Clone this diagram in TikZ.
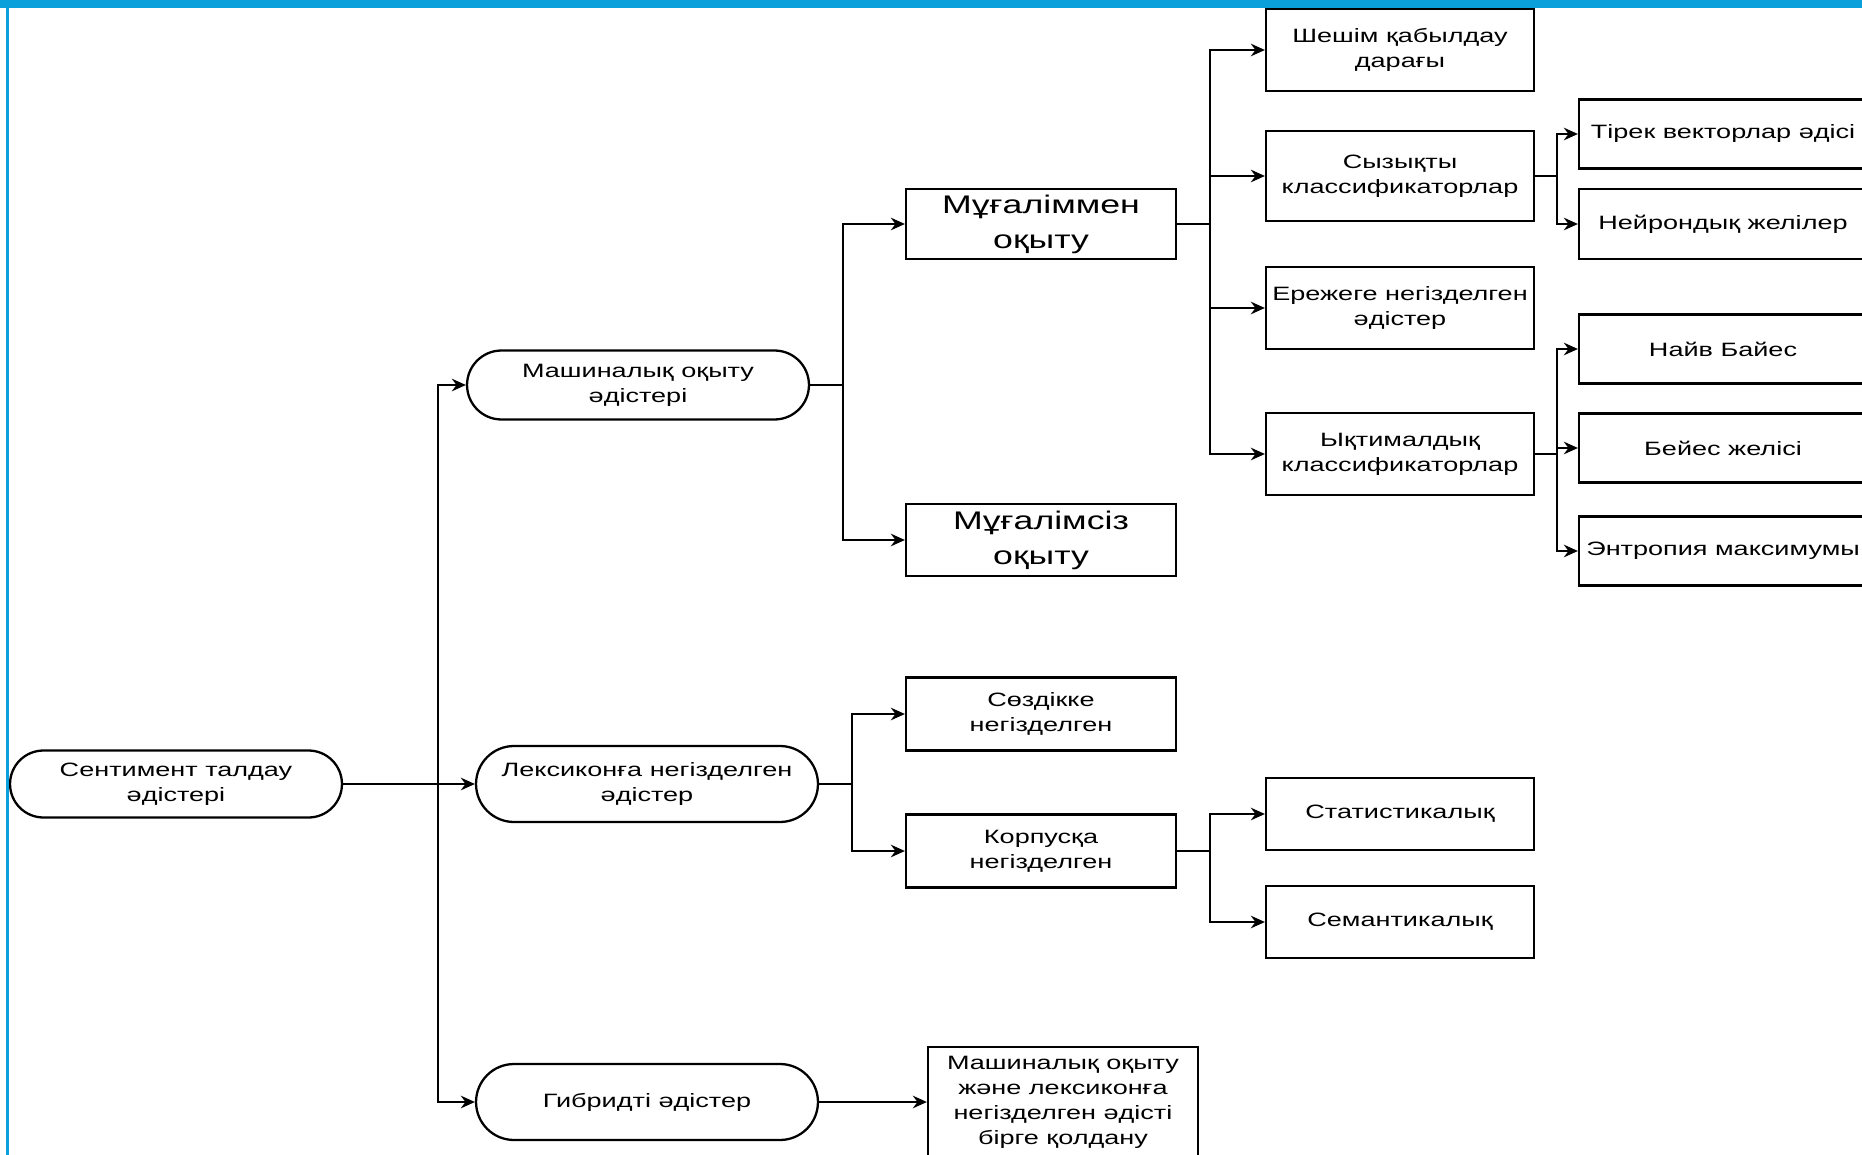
\documentclass[tikz,border=0pt]{standalone}
\usepackage{fontspec}
\setmainfont[FakeStretch=1.4]{Liberation Sans}
\usetikzlibrary{arrows.meta,shapes.misc}
\definecolor{frameblue}{RGB}{10,160,220}

\begin{document}
\begin{tikzpicture}[x=0.02cm,y=-0.02cm,>={Stealth[length=2.8mm,width=2.5mm]},
  line width=1.3pt,
  box/.style={draw, rectangle, align=center, inner sep=0pt, font=\fontsize{11}{14.2}\selectfont},
  term/.style={box, rounded rectangle},
  big/.style={font=\fontsize{14.5}{20}\selectfont}]
\useasboundingbox (0,0) rectangle (1862,1155);
\clip (0,0) rectangle (1862,1155);

\node[term, minimum width=6.64cm, minimum height=1.34cm] (root) at (176,784) {Сентимент талдау\\әдістері};
\node[term, minimum width=6.84cm, minimum height=1.38cm] (ml) at (638,385) {Машиналық оқыту\\әдістері};
\node[term, minimum width=6.84cm, minimum height=1.52cm] (lex) at (647,784) {Лексиконға негізделген\\әдістер};
\node[term, minimum width=6.84cm, minimum height=1.52cm] (hyb) at (647,1102) {Гибридті әдістер};

\node[box, big, minimum width=5.4cm, minimum height=1.4cm] (mugm) at (1041,224) {Мұғаліммен\\оқыту};
\node[box, big, minimum width=5.4cm, minimum height=1.44cm] (mugs) at (1041,540) {Мұғалімсіз\\оқыту};
\node[box, minimum width=5.4cm, minimum height=1.46cm] (sozd) at (1041,714) {Сөздікке\\негізделген};
\node[box, minimum width=5.4cm, minimum height=1.46cm] (korp) at (1041,851) {Корпусқа\\негізделген};
\node[box, minimum width=5.4cm, minimum height=2.2cm] (both) at (1063,1102) {Машиналық оқыту\\және лексиконға\\негізделген әдісті\\бірге қолдану};

\node[box, minimum width=5.36cm, minimum height=1.64cm] (shesim) at (1400,50) {Шешім қабылдау\\дарағы};
\node[box, minimum width=5.36cm, minimum height=1.8cm] (syz) at (1400,176) {Сызықты\\классификаторлар};
\node[box, minimum width=5.36cm, minimum height=1.64cm] (erezhe) at (1400,308) {Ережеге негізделген\\әдістер};
\node[box, minimum width=5.36cm, minimum height=1.64cm] (ykt) at (1400,454) {Ықтималдық\\классификаторлар};
\node[box, minimum width=5.36cm, minimum height=1.44cm] (stat) at (1400,814) {Статистикалық};
\node[box, minimum width=5.36cm, minimum height=1.44cm] (sem) at (1400,922) {Семантикалық};

\node[box, minimum width=5.76cm, minimum height=1.38cm] (tirek) at (1723,134) {Тірек векторлар әдісі};
\node[box, minimum width=5.76cm, minimum height=1.4cm] (neiron) at (1723,224) {Нейрондық желілер};
\node[box, minimum width=5.76cm, minimum height=1.38cm] (naiv) at (1723,349) {Найв Байес};
\node[box, minimum width=5.76cm, minimum height=1.38cm] (baies) at (1723,448) {Бейес желісі};
\node[box, minimum width=5.76cm, minimum height=1.38cm] (entrop) at (1723,551) {Энтропия максимумы};

\draw[->] (root.east) -- ++(95,0) |- (ml.west);
\draw[->] (root.east) -- (lex.west);
\draw[->] (root.east) -- ++(95,0) |- (hyb.west);

\draw[->] (ml.east) -- ++(33,0) |- (mugm.west);
\draw[->] (ml.east) -- ++(33,0) |- (mugs.west);

\foreach \t in {shesim,syz,erezhe,ykt}
  \draw[->] (mugm.east) -- ++(33,0) |- (\t.west);
\foreach \t in {tirek,neiron}
  \draw[->] (syz.east) -- ++(22,0) |- (\t.west);
\foreach \t in {naiv,baies,entrop}
  \draw[->] (ykt.east) -- ++(22,0) |- (\t.west);

\draw[->] (lex.east) -- ++(33,0) |- (sozd.west);
\draw[->] (lex.east) -- ++(33,0) |- (korp.west);
\draw[->] (korp.east) -- ++(33,0) |- (stat.west);
\draw[->] (korp.east) -- ++(33,0) |- (sem.west);
\draw[->] (hyb.east) -- (both.west);

\fill[frameblue] (0,0) rectangle (1862,8);
\fill[frameblue] (6,0) rectangle (9,1155);
\end{tikzpicture}
\end{document}
